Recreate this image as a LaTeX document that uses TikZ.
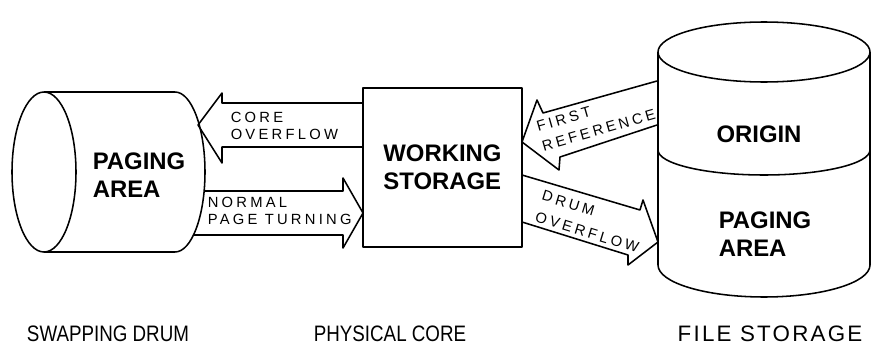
\documentclass[tikz,border=0pt]{standalone}
\usepackage{fontspec}
\setmainfont{Liberation Sans}
\newfontfamily\arrowfont[LetterSpace=22]{Liberation Sans}
\newfontfamily\captionfont[LetterSpace=10]{Liberation Sans}
\newfontfamily\narrowfont[FakeStretch=0.84]{Liberation Sans}
\begin{document}
\begin{tikzpicture}[x=0.25mm, y=0.25mm, line width=1.1pt, line join=round,
  bigtext/.style={inner sep=0pt, align=left, font=\fontsize{17}{20}\selectfont\bfseries},
  arrowtext/.style={inner sep=0pt, align=left, font=\arrowfont\fontsize{10.5}{12}\selectfont},
  captext/.style={inner sep=0pt, font=\captionfont\fontsize{15.9}{19}\selectfont}]
\useasboundingbox (0,0) rectangle (873,357);
% swapping drum
\draw (44,185) ellipse (32 and 80);
\draw (44,265) -- (175,265) arc (90:-90:30 and 80) -- (44,105);
\node[bigtext, anchor=west] (drumarea) at (92,181.5) {PAGING\\AREA};
% physical core
\node[draw, bigtext, minimum width=39.75mm, minimum height=39.75mm] (core) at (442.5,189.5) {WORKING\\STORAGE};
% file storage
\draw (764,305) ellipse (106 and 30);
\draw (658,305) -- (658,92) arc (180:360:106 and 32) -- (870,305);
\draw (658,207) arc (180:360:106 and 25);
\node[bigtext] (origin) at (759,222.5) {ORIGIN};
\node[bigtext, anchor=west] (filearea) at (718,123) {PAGING\\AREA};
% fat arrows
\draw (363,254) -- (222,254) -- (222,264) -- (198,232) -- (222,194) -- (222,210) -- (363,210);
\node[arrowtext, anchor=west] (coreover) at (230,231.5) {CORE\\OVERFLOW};
\draw (204,166) -- (343,166) -- (343,179) -- (363,144) -- (343,109) -- (343,122) -- (193.5,122);
\node[arrowtext, anchor=west] (pageturn) at (207,146.5) {NORMAL\\PAGE TURNING};
\draw (657,276) -- (543,244) -- (537,257) -- (522,215) -- (559,187) -- (560,200) -- (657,232);
\node[arrowtext, anchor=west, rotate=16, font=\arrowfont\fontsize{10.5}{14.5}\selectfont] (firstref) at (539,220.3) {FIRST\\REFERENCE};
\draw (522,182) -- (640,147) -- (643,157) -- (658,115) -- (628,92) -- (628,102) -- (522,135);
\node[arrowtext, anchor=west, rotate=-17, font=\arrowfont\fontsize{10.5}{16}\selectfont] (drumover) at (538.5,151.3) {DRUM\\OVERFLOW};
% captions
\node[captext, font=\narrowfont\fontsize{15.9}{19}\selectfont] (swapcap) at (108,23) {SWAPPING DRUM};
\node[captext, font=\narrowfont\fontsize{15.9}{19}\selectfont] (corecap) at (390,23) {PHYSICAL CORE};
\node[captext] (filecap) at (770,23) {FILE STORAGE};
\end{tikzpicture}
\end{document}
